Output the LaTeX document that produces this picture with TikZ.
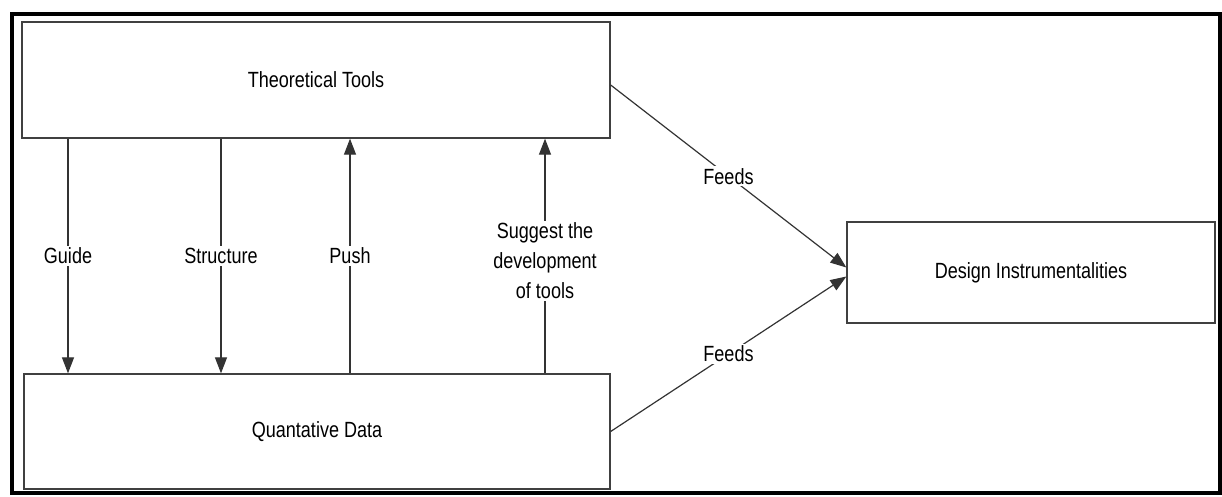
\documentclass[tikz,border=0pt]{standalone}
\usepackage{fontspec}
\newfontfamily\narrowfont[FakeStretch=0.82]{Liberation Sans}
\usetikzlibrary{arrows.meta,calc}
\begin{document}
\begin{tikzpicture}[x=1pt,y=-1pt,
  box/.style={draw=black!75,line width=1.3pt,fill=white,inner sep=0pt,
    font=\narrowfont\fontsize{22}{27}\selectfont},
  lab/.style={fill=white,inner sep=2pt,align=center,
    font=\narrowfont\fontsize{22}{30}\selectfont},
  arr/.style={draw=black!80,line width=1.2pt,-{Triangle[length=16pt,width=12pt]}}]
\useasboundingbox (0,0) rectangle (1222,497);
\draw[line width=3.2pt] (12,14) rectangle (1220,493);
\node[box,minimum width=588pt,minimum height=116pt] (T) at (316,80) {Theoretical Tools};
\node[box,minimum width=586pt,minimum height=115pt] (Q) at (317,431.5) {Quantative Data};
\node[box,minimum width=368pt,minimum height=101pt] (D) at (1031,272.5) {Design Instrumentalities};
\coordinate (cg) at (68,0);
\coordinate (cs) at (221,0);
\coordinate (cp) at (350,0);
\coordinate (cd) at (545,0);
\draw[arr] (T.south -| cg) -- node[lab,pos=0.5]{Guide} (Q.north -| cg);
\draw[arr] (T.south -| cs) -- node[lab,pos=0.5]{Structure} (Q.north -| cs);
\draw[arr] (Q.north -| cp) -- node[lab,pos=0.5]{Push} (T.south -| cp);
\draw[arr] (Q.north -| cd) -- node[lab,pos=0.48]{Suggest the\\development\\of tools} (T.south -| cd);
\draw[arr] ($(T.east)+(0,5)$) -- node[lab,pos=0.5]{Feeds} ($(D.west)+(0,-5)$);
\draw[arr] ($(Q.east)+(0,0)$) -- node[lab,pos=0.5]{Feeds} ($(D.west)+(0,4)$);
\end{tikzpicture}
\end{document}
